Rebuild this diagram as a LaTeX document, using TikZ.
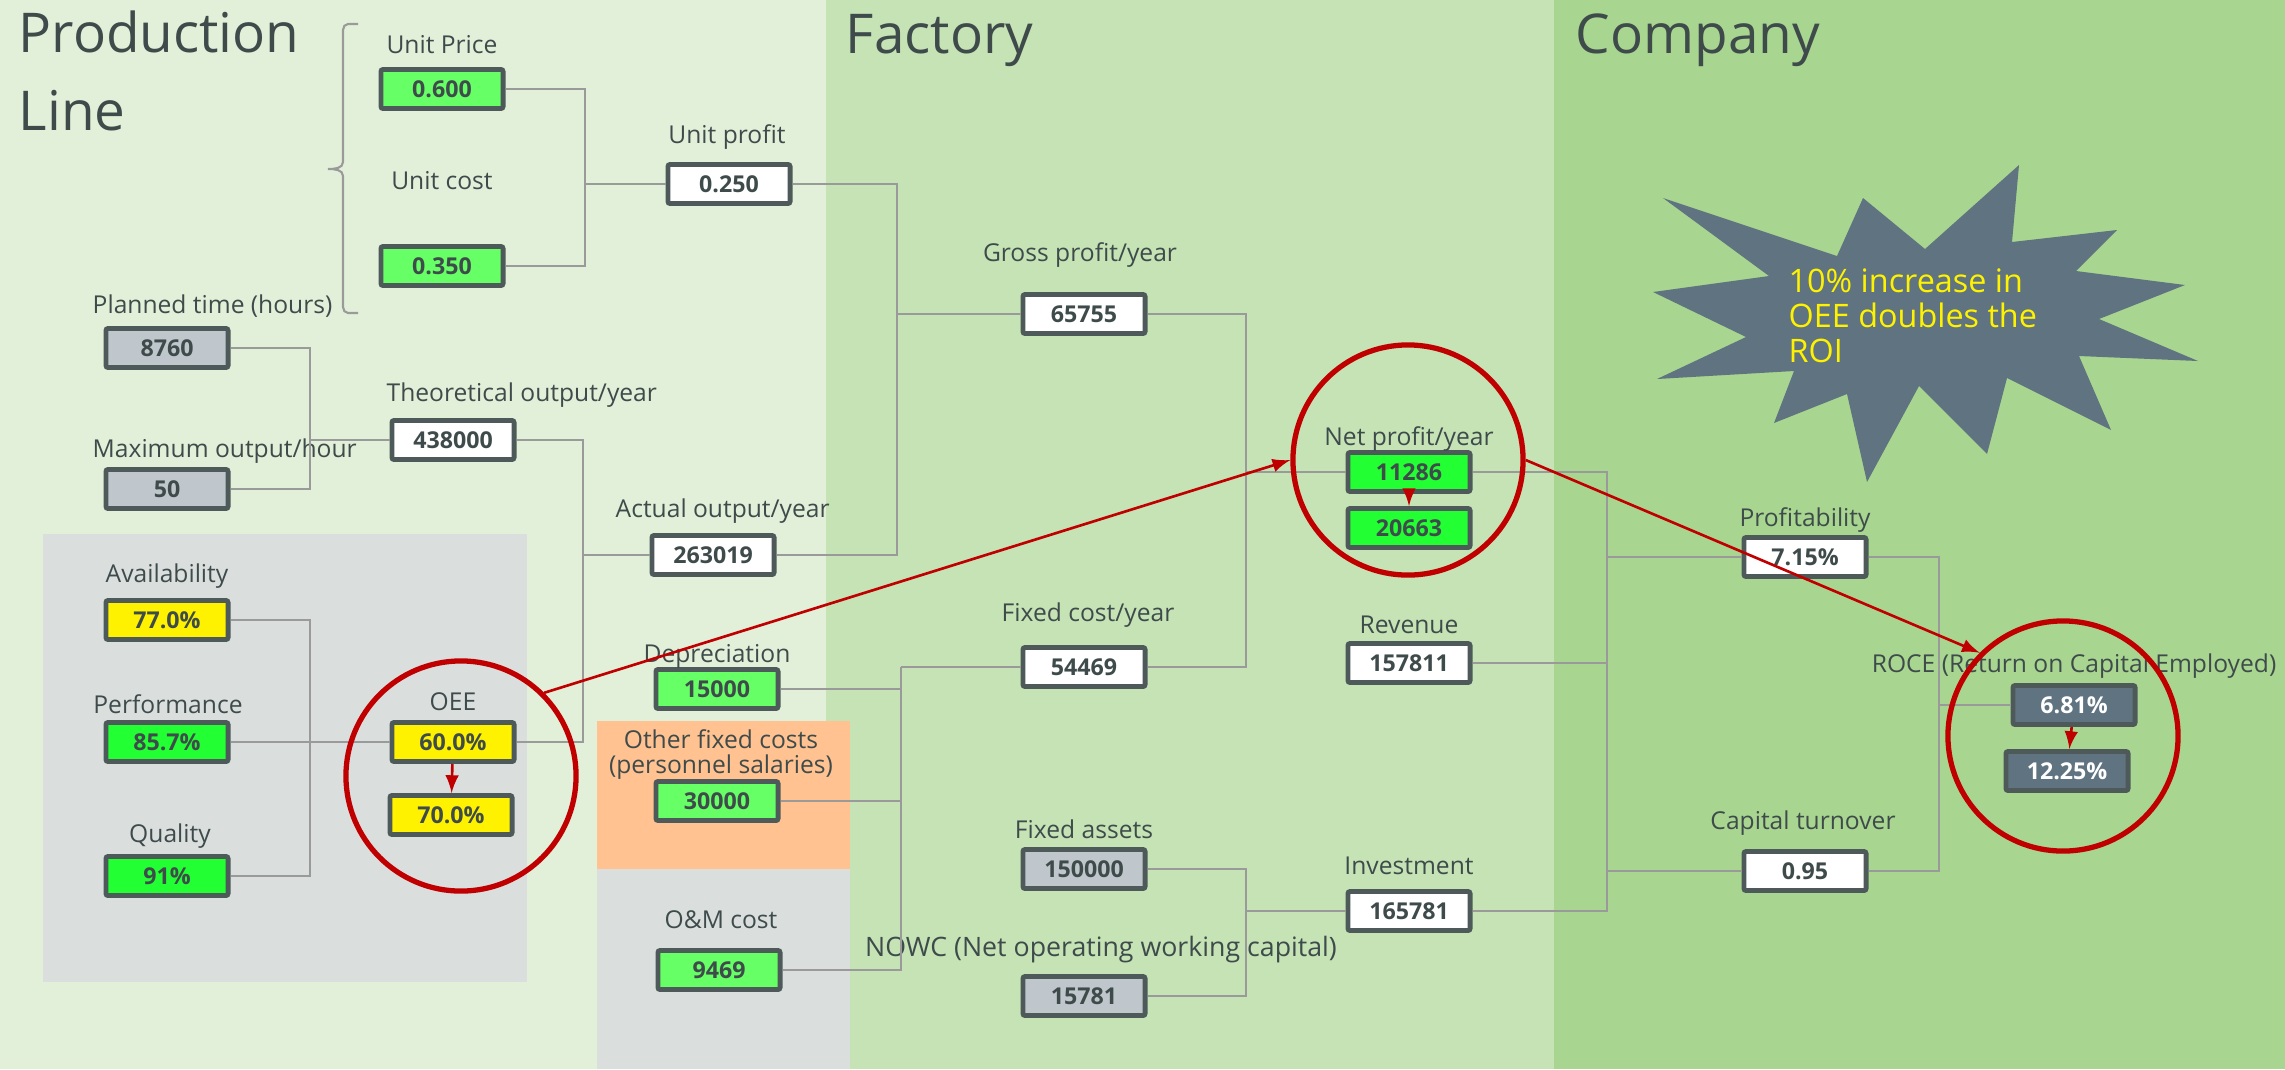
\documentclass[tikz,border=0pt]{standalone}
\usepackage{fontspec}
\setmainfont{Open Sans}
\usepackage{tikz}
\usetikzlibrary{shapes,arrows,positioning}
\usepackage{xcolor}

\definecolor{plbg}{HTML}{E2F0D9}
\definecolor{facbg}{HTML}{C5E3B5}
\definecolor{compbg}{HTML}{A8D690}
\definecolor{panelgrey}{HTML}{DADFDE}
\definecolor{panelorange}{HTML}{FFC290}
\definecolor{boxline}{HTML}{4E5A5A}
\definecolor{txtdark}{HTML}{3F4B4B}
\definecolor{connc}{HTML}{9A9A9A}
\definecolor{inputgreen}{HTML}{66FF66}
\definecolor{brightgreen}{HTML}{22FF33}
\definecolor{fixgrey}{HTML}{BFC7CD}
\definecolor{slate}{HTML}{5F7380}
\definecolor{ringred}{HTML}{C00000}

\tikzset{
    valbox/.style={draw=boxline, line width=1.4pt, rounded corners=0.6pt, minimum width=1.22cm, minimum height=0.39cm, inner sep=0pt, text=txtdark, font=\fontsize{6.6}{7}\selectfont\bfseries},
    lbl/.style={text=txtdark, inner sep=0pt, font=\fontsize{7}{7.1}\selectfont},
    title/.style={text=txtdark, inner sep=0pt, font=\fontsize{15.6}{22.2}\selectfont},
    conn/.style={draw=connc, line width=0.7pt},
    ring/.style={circle, draw=ringred, line width=1.5pt, minimum size=2.3cm, inner sep=0pt},
    redarrow/.style={draw=ringred, line width=0.75pt, -latex}
}

\begin{document}
\begin{tikzpicture}[x=0.01cm, y=-0.01cm]
        \useasboundingbox (0,0) rectangle (2285,1069);

        % Bands
        \fill[plbg] (0,0) rectangle (826,1069);
        \fill[facbg] (826,0) rectangle (1554,1069);
        \fill[compbg] (1554,0) rectangle (2285,1069);
        \fill[panelgrey] (43,534) rectangle (527,982);
        \fill[panelorange] (597,721) rectangle (850,869);
        \fill[panelgrey] (597,869) rectangle (850,1069);

        % Titles
        \node[title, anchor=north west, align=left] (ttlLine) at (18,10) {Production\\Line};
        \node[title, anchor=base west] (ttlFactory) at (845,53) {Factory};
        \node[title, anchor=base west] (ttlCompany) at (1575,53) {Company};

        % Starburst
        \fill[slate] (1663,198) -- (1837,256) -- (1863,198) -- (1925,249) -- (2019,165) -- (2012,242)
            -- (2117,230) -- (2076,271) -- (2185,285) -- (2099,319) -- (2198,361) -- (2079,356)
            -- (2111,430) -- (2007,378) -- (1987,454) -- (1919,386) -- (1867,482) -- (1847,394)
            -- (1774,423) -- (1794,371) -- (1657,379) -- (1746,337) -- (1653,292) -- (1769,276) -- cycle;
        \node[anchor=north west, align=left, inner sep=0pt, text=yellow, font=\fontsize{9.2}{10}\selectfont] (burstTxt) at (1788,268) {10\% increase in\\OEE doubles the\\ROI};

        % Brace
        \draw[connc, line width=0.6pt] (358,24) -- (348,24) to[out=180,in=90] (343,30) -- (343,162)
            to[out=270,in=0] (328,169) to[out=0,in=90] (343,176) -- (343,307) to[out=270,in=180] (348,313) -- (358,313);

        % Production line values
        \foreach \n/\x/\y/\c/\v in {uprice/442/89/inputgreen/0.600, ucost/442/266/inputgreen/0.350,
                uprofit/729/184/white/0.250, ptime/167/348/fixgrey/8760, maxout/167/489/fixgrey/50,
                theo/453/440/white/438000, actual/713/555/white/263019, avail/167/620/yellow/77.0\%,
                perf/167/742/brightgreen/85.7\%, qual/167/876/brightgreen/91\%, oee/453/742/yellow/60.0\%,
                oeenew/451/815/yellow/70.0\%} {
            \node[valbox, fill=\c] (\n) at (\x,\y) {\v};
        }

        % Factory values
        \foreach \n/\x/\y/\c/\v in {gross/1084/314/white/65755, depr/717/689/inputgreen/15000,
                other/717/801/inputgreen/30000, om/719/970/inputgreen/9469, fixc/1084/667/white/54469,
                fasset/1084/869/fixgrey/150000, nowc/1084/996/fixgrey/15781, net/1409/472/brightgreen/11286,
                netnew/1409/528/brightgreen/20663, rev/1409/663/white/157811, inv/1409/911/white/165781} {
            \node[valbox, fill=\c] (\n) at (\x,\y) {\v};
        }

        % Company values
        \node[valbox, fill=white] (prof) at (1805,557) {7.15\%};
        \node[valbox, fill=white] (capt) at (1805,871) {0.95};
        \node[valbox, fill=slate, text=white] (roce) at (2074,705) {6.81\%};
        \node[valbox, fill=slate, text=white] (rocenew) at (2067,771) {12.25\%};

        % Labels
        \node[lbl] (lUprice) at (442,45) {Unit Price};
        \node[lbl] (lUcost) at (442,181) {Unit cost};
        \node[lbl] (lUprofit) at (727,137) {Unit profit};
        \node[lbl, anchor=west] (lPtime) at (92,306) {Planned time (hours)};
        \node[lbl, anchor=west] (lMaxout) at (92,451) {Maximum output/hour};
        \node[lbl, anchor=west] (lTheo) at (386,395) {Theoretical output/year};
        \node[lbl, anchor=west] (lActual) at (615,511) {Actual output/year};
        \node[lbl] (lAvail) at (167,576) {Availability};
        \node[lbl] (lPerf) at (168,704) {Performance};
        \node[lbl] (lQual) at (170,836) {Quality};
        \node[lbl] (lOee) at (453,702) {OEE};
        \node[lbl] (lGross) at (1080,255) {Gross profit/year};
        \node[lbl] (lDepr) at (717,656) {Depreciation};
        \node[lbl, align=center] (lOther) at (721,755) {Other fixed costs\\(personnel salaries)};
        \node[lbl] (lOm) at (721,920) {O\&M cost};
        \node[lbl] (lFixc) at (1088,615) {Fixed cost/year};
        \node[lbl] (lFasset) at (1084,829) {Fixed assets};
        \node[lbl, font=\fontsize{7.6}{8}\selectfont] (lNowc) at (1101,950) {NOWC (Net operating working capital)};
        \node[lbl] (lNet) at (1409,439) {Net profit/year};
        \node[lbl] (lRev) at (1409,625) {Revenue};
        \node[lbl] (lInv) at (1409,866) {Investment};
        \node[lbl] (lProf) at (1805,520) {Profitability};
        \node[lbl] (lCapt) at (1803,823) {Capital turnover};
        \node[lbl] (lRoce) at (2074,666) {ROCE (Return on Capital Employed)};

        % Junctions
        \coordinate (j1) at (585,184);
        \coordinate (j2) at (310,440);
        \coordinate (j3) at (583,555);
        \coordinate (j4) at (897,314);
        \coordinate (j5) at (310,742);
        \coordinate (j6) at (901,667);
        \coordinate (j7) at (1246,472);
        \coordinate (j8) at (1246,911);
        \coordinate (j9) at (1607,557);
        \coordinate (j10) at (1607,871);
        \coordinate (j11) at (1939,705);

        % Connectors
        \draw[conn] (uprice.east) -| (j1) |- (ucost.east);
        \draw[conn] (j1) -- (uprofit.west);
        \draw[conn] (ptime.east) -| (j2) |- (maxout.east);
        \draw[conn] (j2) -- (theo.west);
        \draw[conn] (theo.east) -| (j3) |- (oee.east);
        \draw[conn] (j3) -- (actual.west);
        \draw[conn] (uprofit.east) -| (j4) |- (actual.east);
        \draw[conn] (j4) -- (gross.west);
        \draw[conn] (avail.east) -| (j5) |- (qual.east);
        \draw[conn] (perf.east) -- (oee.west);
        \draw[conn] (depr.east) -| (j6) |- (om.east);
        \draw[conn] (other.east) -- (other.east -| j6);
        \draw[conn] (j6) -- (fixc.west);
        \draw[conn] (gross.east) -| (j7) |- (fixc.east);
        \draw[conn] (j7) -- (net.west);
        \draw[conn] (fasset.east) -| (j8) |- (nowc.east);
        \draw[conn] (j8) -- (inv.west);
        \draw[conn] (net.east) -| (j9) -- (j10) |- (inv.east);
        \draw[conn] (rev.east) -- (rev.east -| j9);
        \draw[conn] (j9) -- (prof.west);
        \draw[conn] (j10) -- (capt.west);
        \draw[conn] (prof.east) -| (j11) |- (capt.east);
        \draw[conn] (j11) -- (roce.west);

        % Red rings and arrows
        \node[ring] (oeering) at (461,776) {};
        \node[ring] (netring) at (1408,460) {};
        \node[ring] (rocering) at (2063,736) {};
        \draw[redarrow] (oee) -- (oeenew);
        \draw[redarrow] (net) -- (netnew);
        \draw[redarrow] (roce) -- (rocenew);
        \draw[redarrow] (oeering.45) -- (netring.west);
        \draw[redarrow] (netring.east) -- (rocering.135);
    \end{tikzpicture}
\end{document}
